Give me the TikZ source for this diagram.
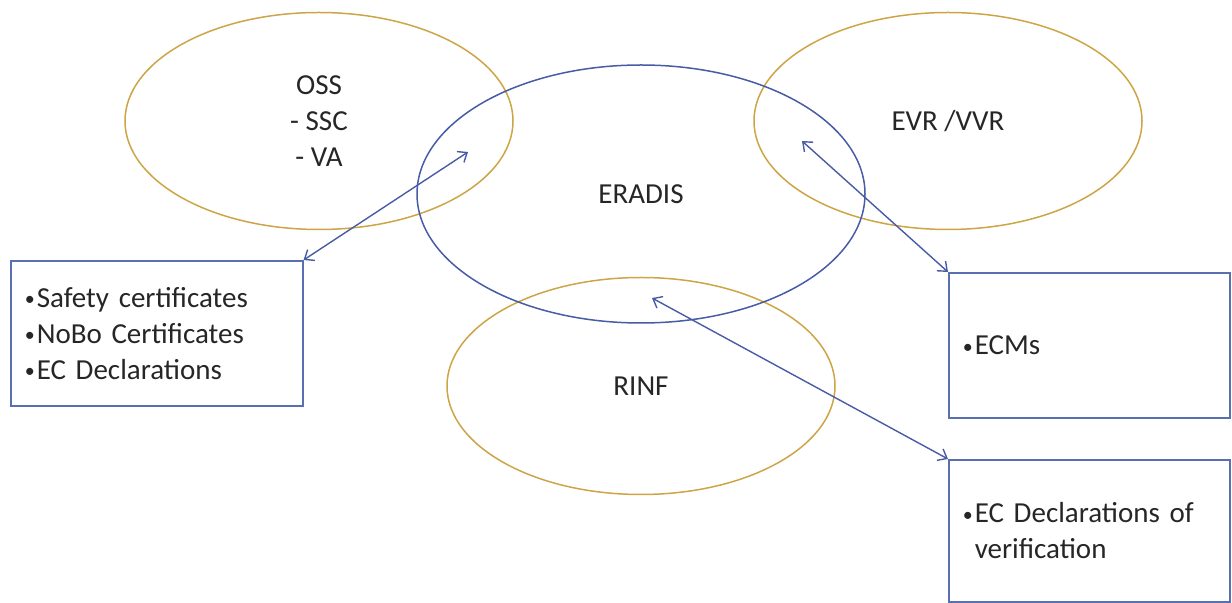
\documentclass[tikz,border=0pt]{standalone}
\usepackage{fontspec}
\setmainfont{Carlito}
\usetikzlibrary{arrows.meta, positioning, shapes.geometric}

\definecolor{ringgold}{RGB}{205,165,70}
\definecolor{ringblue}{RGB}{72,92,165}
\definecolor{boxblue}{RGB}{88,112,178}
\definecolor{textgray}{RGB}{38,38,38}

\newcommand{\itembul}{\makebox[6pt][l]{\raisebox{0.8pt}{\fontsize{10}{10}\selectfont\textbullet}}}

\tikzset{
  ring/.style={ellipse, draw=ringgold, line width=0.75pt, minimum width=194pt,
    minimum height=108.5pt, inner sep=0pt, align=center, text=textgray,
    font=\fontsize{14.5}{18}\selectfont},
  hub/.style={ring, draw=ringblue, minimum width=224pt, minimum height=129pt},
  listbox/.style={rectangle, draw=boxblue, line width=0.8pt, inner xsep=7pt,
    inner ysep=0pt, align=left, text=textgray, anchor=north west,
    font=\fontsize{14.5}{18}\selectfont},
  link/.style={draw=ringblue, line width=0.7pt,
    {Straight Barb[length=4pt,width=6.5pt]}-{Straight Barb[length=4pt,width=6.5pt]}}
}

\begin{document}
\begin{tikzpicture}[x=0.5pt, y=-0.5pt]
    \useasboundingbox (0,0) rectangle (1232,603);

    % --- Registers as ellipses ---
    \node[ring] (oss) at (319,121) {OSS\\- SSC\\- VA};
    \node[ring] (evr) at (948,121) {EVR /VVR};
    \node[ring] (rinf) at (641,386) {RINF};
    \node[hub] (eradis) at (641,194) {ERADIS};

    % --- Document boxes ---
    \node[listbox, text width=132pt, minimum height=72.5pt] (certbox) at (10,260)
      {\itembul Safety certificates\\\itembul NoBo Certificates\\\itembul EC Declarations};
    \node[listbox, text width=126.5pt, minimum height=72.5pt] (ecmbox) at (948,272)
      {\itembul ECMs};
    \node[listbox, text width=126.5pt, minimum height=71pt] (declbox) at (948,459)
      {\itembul EC Declarations of\\\hspace*{6pt}verification};

    % --- Arrow tips inside the ellipses ---
    \coordinate (osstip) at (468,152);
    \coordinate (evrtip) at (802,141);
    \coordinate (rinftip) at (652,298);

    % --- Two-way links ---
    \draw[link] (certbox.north east) -- (osstip);
    \draw[link] (ecmbox.north west) -- (evrtip);
    \draw[link] (declbox.north west) -- (rinftip);
\end{tikzpicture}
\end{document}
